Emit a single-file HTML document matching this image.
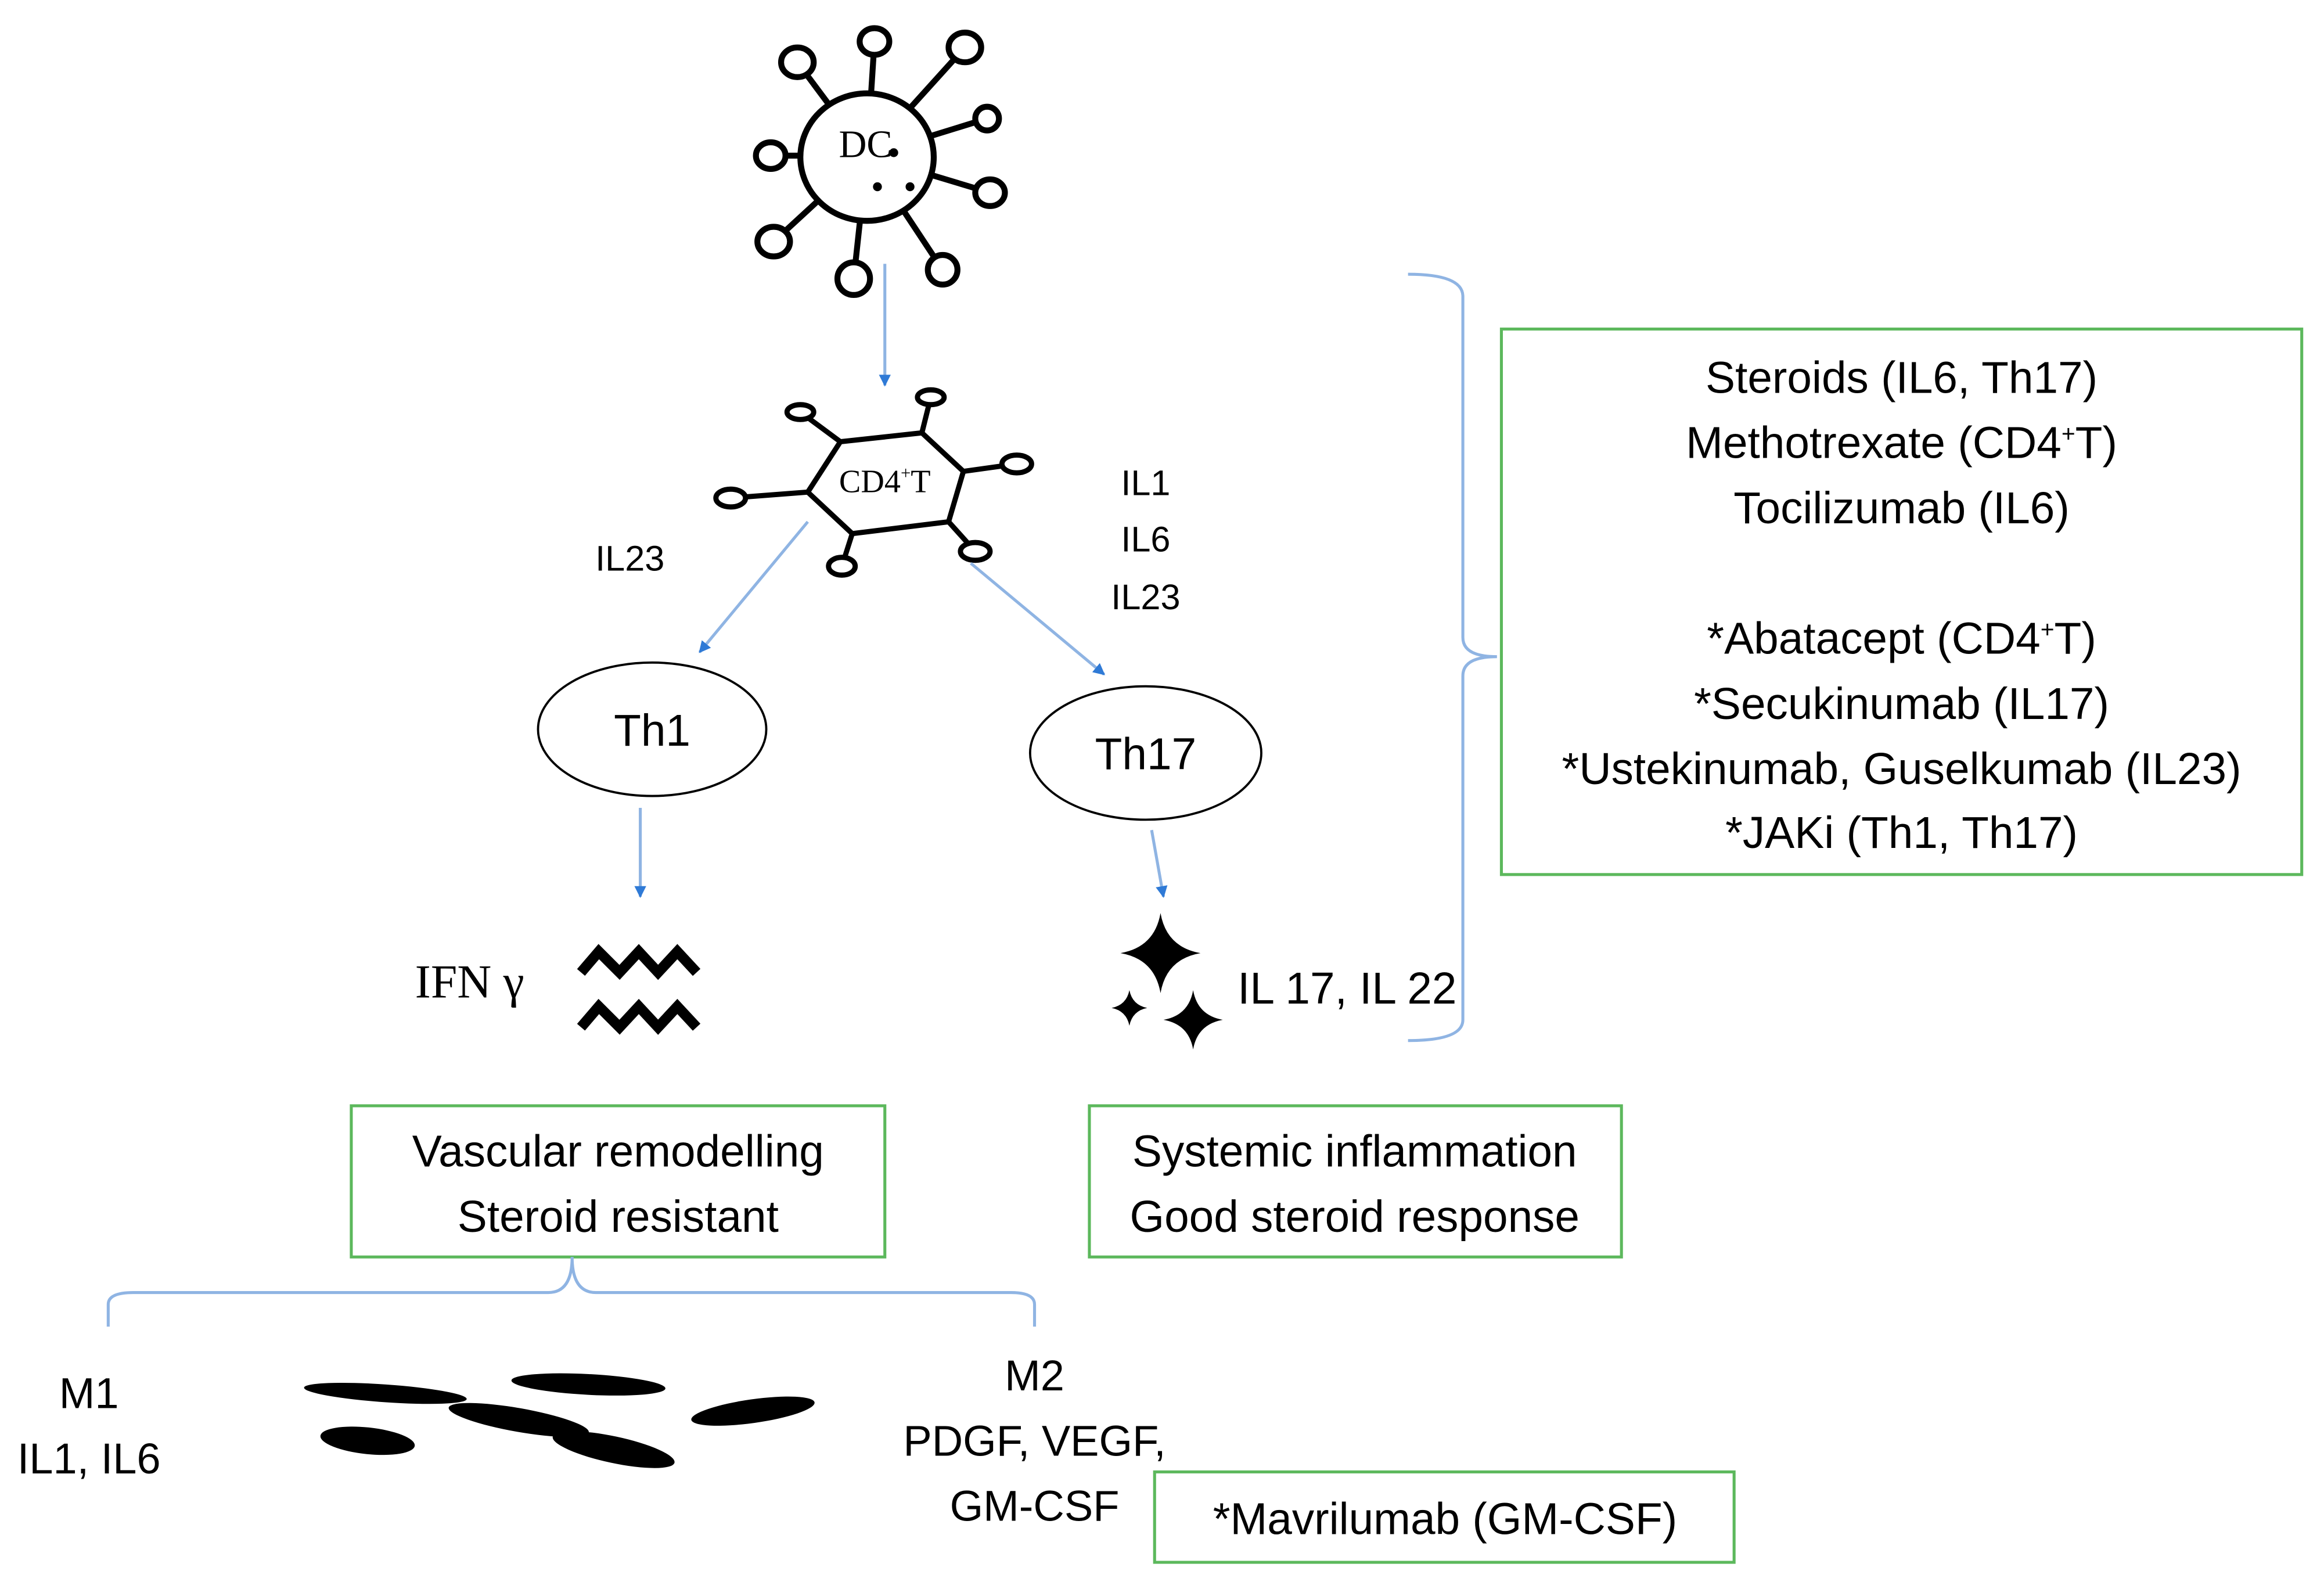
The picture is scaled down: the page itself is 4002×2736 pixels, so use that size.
<!DOCTYPE html>
<html><head><meta charset="utf-8"><style>
html,body{margin:0;padding:0;background:#fff;}
svg{display:block;}
text{font-family:"Liberation Sans",sans-serif;fill:#000;}
</style></head><body>
<svg width="4002" height="2736" viewBox="0 0 1568 1072" xmlns="http://www.w3.org/2000/svg">
<defs>
<marker id="ah" viewBox="0 0 10 10" refX="9" refY="5" markerWidth="4" markerHeight="4" orient="auto"><path d="M0,0 L10,5 L0,10 z" fill="#2f7ad6"/></marker>
</defs>
<g stroke="#000" stroke-width="4" fill="#fff">
<line x1="585" y1="105" x2="538" y2="42"/><line x1="585" y1="105" x2="590" y2="28"/><line x1="585" y1="105" x2="651" y2="32"/>
<line x1="585" y1="105" x2="520" y2="105"/><line x1="585" y1="105" x2="522" y2="163"/><line x1="585" y1="105" x2="666" y2="80"/>
<line x1="585" y1="105" x2="668" y2="130"/><line x1="585" y1="105" x2="636" y2="182"/><line x1="585" y1="105" x2="576" y2="188"/>
<ellipse cx="538" cy="42" rx="11" ry="10"/><ellipse cx="590" cy="28" rx="10" ry="9"/><ellipse cx="651" cy="32" rx="11" ry="10"/>
<ellipse cx="520" cy="105" rx="10" ry="9"/><ellipse cx="522" cy="163" rx="11" ry="10"/><ellipse cx="666" cy="80" rx="8" ry="8"/>
<ellipse cx="668" cy="130" rx="10" ry="9"/><ellipse cx="636" cy="182" rx="10" ry="10"/><ellipse cx="576" cy="188" rx="11" ry="11"/>
<ellipse cx="585" cy="106" rx="45" ry="43"/>
</g>
<text x="584" y="106" font-size="26" text-anchor="middle" style="font-family:'Liberation Serif',serif">DC</text>
<circle cx="603" cy="103" r="3" fill="#000"/><circle cx="592" cy="126" r="3" fill="#000"/><circle cx="614" cy="126" r="3" fill="#000"/>
<line x1="597" y1="178" x2="597" y2="260" stroke="#8fb4e3" stroke-width="2" marker-end="url(#ah)"/>
<g stroke="#000" stroke-width="3.5" fill="#fff">
<line x1="567" y1="298" x2="540" y2="278"/><line x1="622" y1="292" x2="628" y2="268"/><line x1="650" y1="318" x2="686" y2="313"/>
<line x1="640" y1="352" x2="658" y2="372"/><line x1="575" y1="360" x2="568" y2="382"/><line x1="545" y1="332" x2="493" y2="336"/>
<polygon points="567,298 622,292 650,318 640,352 575,360 545,332"/>
<ellipse cx="540" cy="278" rx="9" ry="5"/><ellipse cx="628" cy="268" rx="9" ry="5"/><ellipse cx="686" cy="313" rx="10" ry="6"/>
<ellipse cx="658" cy="372" rx="10" ry="6"/><ellipse cx="568" cy="382" rx="9" ry="6"/><ellipse cx="493" cy="336" rx="10" ry="6"/>
</g>
<text x="597" y="332" font-size="22" text-anchor="middle" style="font-family:'Liberation Serif',serif">CD4<tspan font-size="12" dy="-9">+</tspan><tspan dy="9">T</tspan></text>
<text x="425" y="385" font-size="24" text-anchor="middle">IL23</text>
<text x="773" y="334" font-size="24" text-anchor="middle">IL1</text>
<text x="773" y="372" font-size="24" text-anchor="middle">IL6</text>
<text x="773" y="411" font-size="24" text-anchor="middle">IL23</text>
<line x1="545" y1="352" x2="472" y2="440" stroke="#8fb4e3" stroke-width="2" marker-end="url(#ah)"/>
<line x1="655" y1="380" x2="745" y2="455" stroke="#8fb4e3" stroke-width="2" marker-end="url(#ah)"/>
<ellipse cx="440" cy="492" rx="77" ry="45" fill="none" stroke="#000" stroke-width="1.5"/>
<ellipse cx="773" cy="508" rx="78" ry="45" fill="none" stroke="#000" stroke-width="1.5"/>
<text x="440" y="503" font-size="30" text-anchor="middle">Th1</text>
<text x="773" y="519" font-size="30" text-anchor="middle">Th17</text>
<line x1="432" y1="545" x2="432" y2="605" stroke="#8fb4e3" stroke-width="2" marker-end="url(#ah)"/>
<line x1="777" y1="560" x2="785" y2="605" stroke="#8fb4e3" stroke-width="2" marker-end="url(#ah)"/>
<text x="280" y="673" font-size="32" style="font-family:'Liberation Serif',serif">IFN γ</text>
<g fill="none" stroke="#000" stroke-width="7">
<polyline points="392,656 404,642 418,656 431,642 444,656 457,642 470,656"/>
<polyline points="392,693 404,679 418,693 431,679 444,693 457,679 470,693"/>
</g>
<g fill="#000">
<path d="M783,616 Q787,639 810,643 Q787,647 783,670 Q779,647 756,643 Q779,639 783,616 z"/>
<path d="M762,668 Q764,678 774,680 Q764,682 762,692 Q760,682 750,680 Q760,678 762,668 z"/>
<path d="M805,668 Q808,685 825,688 Q808,691 805,708 Q802,691 785,688 Q802,685 805,668 z"/>
</g>
<text x="835" y="677" font-size="30">IL 17, IL 22</text>
<path d="M950,185 Q987,185 987,200 L987,430 Q987,443 1010,443 Q987,443 987,456 L987,688 Q987,702 950,702" fill="none" stroke="#8fb4e3" stroke-width="2"/>
<rect x="1013" y="222" width="540" height="368" fill="none" stroke="#5cb85c" stroke-width="2"/>
<g font-size="30" text-anchor="middle">
<text x="1283" y="265">Steroids (IL6, Th17)</text>
<text x="1283" y="309">Methotrexate (CD4<tspan font-size="16" dy="-11">+</tspan><tspan dy="11">T)</tspan></text>
<text x="1283" y="353">Tocilizumab (IL6)</text>
<text x="1283" y="441">*Abatacept (CD4<tspan font-size="16" dy="-11">+</tspan><tspan dy="11">T)</tspan></text>
<text x="1283" y="485">*Secukinumab (IL17)</text>
<text x="1283" y="529">*Ustekinumab, Guselkumab (IL23)</text>
<text x="1283" y="572">*JAKi (Th1, Th17)</text>
</g>
<rect x="237" y="746" width="360" height="102" fill="none" stroke="#5cb85c" stroke-width="2"/>
<rect x="735" y="746" width="359" height="102" fill="none" stroke="#5cb85c" stroke-width="2"/>
<g font-size="30" text-anchor="middle">
<text x="417" y="787">Vascular remodelling</text>
<text x="417" y="831">Steroid resistant</text>
<text x="914" y="787">Systemic inflammation</text>
<text x="914" y="831">Good steroid response</text>
</g>
<path d="M73,895 L73,880 Q73,872 90,872 L370,872 Q386,872 386,848 Q386,872 402,872 L682,872 Q698,872 698,880 L698,895" fill="none" stroke="#8fb4e3" stroke-width="2"/>
<g font-size="29" text-anchor="middle">
<text x="60" y="950">M1</text>
<text x="60" y="994">IL1, IL6</text>
<text x="698" y="938">M2</text>
<text x="698" y="982">PDGF, VEGF,</text>
<text x="698" y="1026">GM-CSF</text>
</g>
<g fill="#000">
<ellipse cx="260" cy="940" rx="55" ry="6" transform="rotate(4 260 940)"/>
<ellipse cx="397" cy="934" rx="52" ry="7" transform="rotate(3 397 934)"/>
<ellipse cx="508" cy="952" rx="42" ry="8" transform="rotate(-8 508 952)"/>
<ellipse cx="350" cy="958" rx="48" ry="8" transform="rotate(10 350 958)"/>
<ellipse cx="248" cy="972" rx="32" ry="9" transform="rotate(6 248 972)"/>
<ellipse cx="414" cy="978" rx="42" ry="9" transform="rotate(12 414 978)"/>
</g>
<rect x="779" y="993" width="391" height="61" fill="none" stroke="#5cb85c" stroke-width="2"/>
<text x="975" y="1035" font-size="30" text-anchor="middle">*Mavrilumab (GM-CSF)</text>
</svg>
</body></html>
